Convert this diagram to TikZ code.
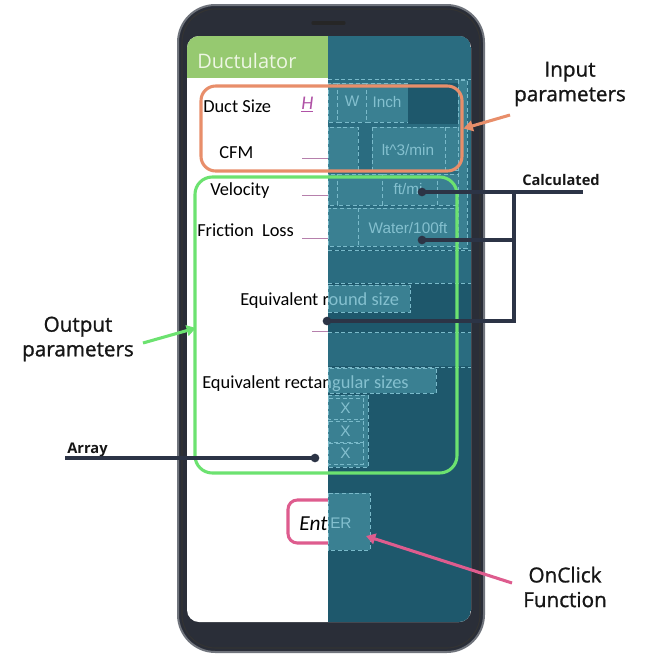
\documentclass[tikz,border=0pt]{standalone}
\usepackage{fontspec}
\setmainfont{Carlito}
\newfontfamily\notefont[FakeBold=1.2]{Open Sans}
\newfontfamily\titlefont{Open Sans}
\newfontfamily\printfont{Liberation Sans}
\usepackage{tikz}
\usetikzlibrary{arrows.meta,fit}

\definecolor{phonebody}{RGB}{42,46,56}
\definecolor{phonerim}{RGB}{112,116,124}
\definecolor{tealdark}{RGB}{30,88,108}
\definecolor{tealmid}{RGB}{42,108,128}
\definecolor{tealbox}{RGB}{58,128,146}
\definecolor{printline}{RGB}{122,186,202}
\definecolor{printtext}{RGB}{132,192,207}
\definecolor{headgreen}{RGB}{150,201,112}
\definecolor{headtext}{RGB}{238,246,228}
\definecolor{inorange}{RGB}{232,142,106}
\definecolor{outgreen}{RGB}{108,226,112}
\definecolor{clickpink}{RGB}{222,92,142}
\definecolor{fieldpink}{RGB}{182,128,172}
\definecolor{hpink}{RGB}{176,82,166}
\definecolor{navy}{RGB}{44,52,70}
\definecolor{notetext}{RGB}{22,22,22}

\begin{document}
\begin{tikzpicture}[x=0.75pt, y=-0.75pt,
  field/.style={font=\fontsize{13.8}{16}\selectfont, inner sep=0pt, anchor=base west},
  print/.style={font=\printfont\fontsize{11.5}{13}\selectfont, text=printtext, inner sep=0pt},
  pbox/.style={draw=printline, densely dashed, fill=tealbox, line width=0.6pt},
  pline/.style={draw=printline, densely dashed, line width=0.6pt},
  uline/.style={draw=fieldpink, line width=0.6pt},
  note/.style={font=\notefont\fontsize{15.5}{18.5}\selectfont, text=notetext, align=center, inner sep=0pt},
  tag/.style={font=\titlefont\bfseries\fontsize{11}{13}\selectfont, text=notetext, inner sep=0pt, anchor=base west},
  frame/.style={line width=2.3pt, rounded corners=11pt, inner sep=0pt},
  calc/.style={draw=navy, line width=3pt},
  dot/.style={circle, fill=navy, inner sep=0pt, minimum size=6.5pt},
  pointer/.style={line width=2.3pt, -{Triangle[length=7pt,width=8pt]}}]
\useasboundingbox (0,0) rectangle (654,665);

%draw phone
\draw[phonerim, line width=1.5pt, fill=phonebody, rounded corners=28pt] (178,5) rectangle (484,652);
\draw[black!80, line width=0.8pt, rounded corners=25pt] (182,9) rectangle (480,648);
\draw[black!85, line width=2.5pt, line cap=round] (313,23) -- (344,23);

%draw screen
\fill[white, rounded corners=9pt] (187,36) rectangle (471,622);
\begin{scope}
\clip[rounded corners=9pt] (187,36) rectangle (471,622);
\fill[headgreen] (187,36) rectangle (328,78);
\node[font=\titlefont\fontsize{15}{17}\selectfont, text=headtext, inner sep=0pt, anchor=base west] (title) at (197,68) {Ductulator};

%labels, white half
\begin{scope}
\clip (187,36) rectangle (328,622);
\node[field] (dsz) at (203,112) {Duct Size};
\node[field, text=hpink, font=\itshape\fontsize{14.5}{16}\selectfont] (hval) at (301,109) {\underline{H}};
\node[field] (cfm) at (219,158) {CFM};
\node[field] (vel) at (210,195) {Velocity};
\node[field] (fric) at (197,236) {Friction\ \ Loss};
\node[field] (eqr) at (240,305) {Equivalent round size};
\node[field] (eqs) at (202,388) {Equivalent rectangular sizes};
\node[frame, draw=clickpink, rounded corners=7pt, fit={(288,500) (350,543)}] (enterbox) {};
\end{scope}
\node[field, font=\itshape\fontsize{16}{18}\selectfont] (ent) at (299,530) {Ent};
\draw[uline] (302,158) -- (328,158);
\draw[uline] (302,195) -- (328,195);
\draw[uline] (302,238) -- (328,238);
\draw[uline] (312,331) -- (328,331);

%blueprint half
\fill[tealdark] (328,36) rectangle (471,622);
\fill[tealmid] (328,36) rectangle (471,78);
\fill[tealmid] (328,78) rectangle (471,250);
\draw[pline] (328,79) -- (471,79);
\draw[pbox] (328,83) rectangle (337,122);
\draw[pbox] (337,83) rectangle (366,122);
\draw[pbox] (366,83) rectangle (408,122);
\fill[tealdark] (408,83) rectangle (466,124);
\draw[pbox] (328,127) rectangle (358,170);
\draw[pbox] (372,127) rectangle (445,170);
\draw[pbox] (445,127) rectangle (458,170);
\draw[pbox] (328,174) rectangle (337,205);
\draw[pbox] (337,174) rectangle (382,205);
\draw[pbox] (382,174) rectangle (437,205);
\draw[pbox] (437,174) rectangle (458,205);
\draw[pbox] (328,208) rectangle (358,246);
\draw[pbox] (358,208) rectangle (458,246);
\draw[pbox] (458,80) rectangle (467,248);
\draw[pline] (328,250) -- (471,250);
\fill[tealmid] (328,251) rectangle (471,283);
\draw[pline] (328,283) -- (471,283);
\draw[pbox] (328,285) rectangle (410,312);
\draw[pline] (328,332) -- (471,332);
\fill[tealmid] (328,333) rectangle (471,366);
\draw[pline] (328,367) -- (471,367);
\draw[pbox] (328,368) rectangle (436,393);
\draw[pbox] (328,395) rectangle (368,467);
\foreach \y/\n in {398/1,421/2,443/3}
  \draw[pbox] (328,\y) rectangle (363,\y+21) node[print, midway] (x\n) {X};
\draw[pbox] (328,493) rectangle (370,550);

\node[print] (wp) at (352,101) {W};
\node[print] (inchp) at (387,102) {Inch};
\node[print] (flowp) at (408,150) {lt\textasciicircum3/min};
\node[print] (velp) at (408,189) {ft/mi};
\node[print] (fricp) at (408,228) {Water/100ft};
\node[print, anchor=west] (entp) at (330,523) {ER};

%labels, blueprint half
\begin{scope}
\clip (328,36) rectangle (471,622);
\node[field, text=printtext] (eqrp) at (240,305) {Equivalent round size};
\node[field, text=printtext] (eqsp) at (202,388) {Equivalent rectangular sizes};
\end{scope}
\end{scope}

%draw frames
\node[frame, draw=inorange, fit={(201,86) (462,171)}] (inbox) {};
\node[frame, draw=outgreen, rounded corners=13pt, fit={(195,177) (457,473)}] (outbox) {};

%draw notes
\node[note] (inlab) at (570,84) {Input\\parameters};
\node[note] (outlab) at (78,339) {Output\\parameters};
\node[note] (clicklab) at (565,587) {OnClick\\Function};
\node[tag] (calclab) at (522,185) {Calculated};
\node[tag] (arrlab) at (67,453) {Array};

%draw arrows
\coordinate (intail) at (510,115);
\coordinate (outtail) at (143,343);
\coordinate (outtip) at (196,328);
\coordinate (clicktail) at (512,583);
\coordinate (clicktip) at (366,536);
\draw[pointer, draw=inorange] (intail) -- (inbox.east);
\draw[pointer, draw=outgreen] (outtail) -- (outtip);
\draw[pointer, draw=clickpink] (clicktail) -- (clicktip);

%draw calculated lines
\node[dot] (vdot) at (422,192) {};
\node[dot] (fdot) at (422,240) {};
\node[dot] (rdot) at (327,321) {};
\node[dot] (adot) at (315,458) {};
\coordinate (calcend) at (583,192);
\coordinate (jtop) at (514,192);
\coordinate (jbot) at (514,321);
\coordinate (arrend) at (65,458);
\draw[calc] (vdot.center) -- (calcend);
\draw[calc] (fdot.center) -- (fdot.center -| jtop);
\draw[calc] (jtop) -- (jbot) -- (rdot.center);
\draw[calc] (arrend) -- (adot.center);
\end{tikzpicture}
\end{document}
